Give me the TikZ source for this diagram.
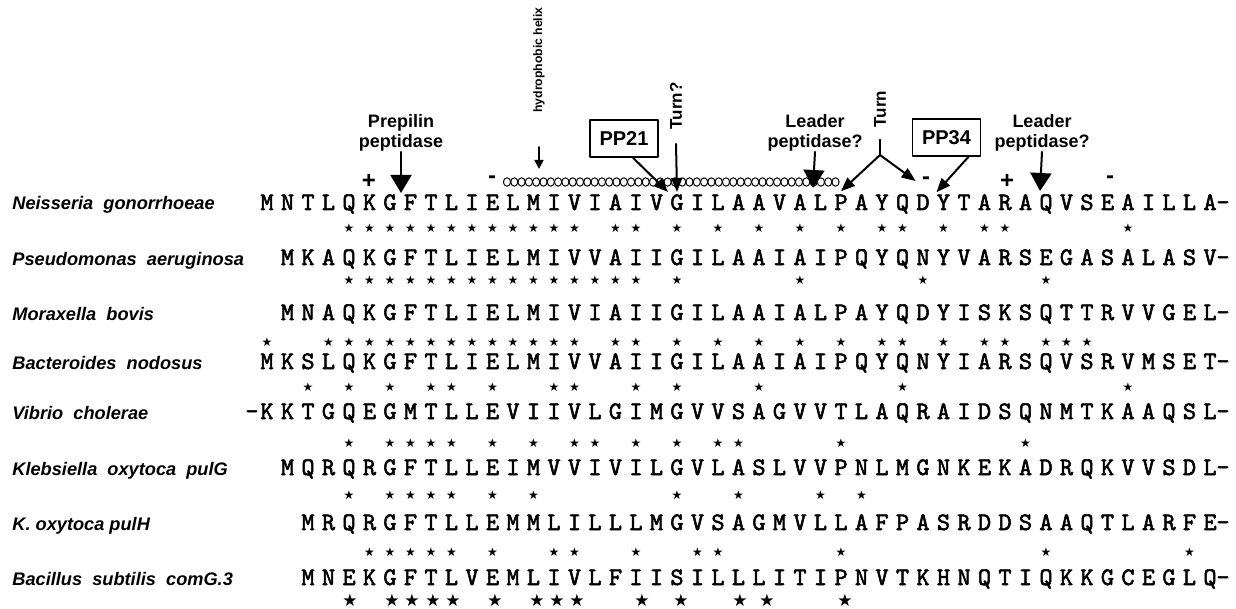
\documentclass[tikz,border=0pt]{standalone}
\usepackage{fontspec}
\setmainfont{Liberation Sans}
\newfontfamily\starfont{DejaVu Sans}
\newfontfamily\seqfont{lmmono10-regular}[Extension=.otf,FakeBold=2.2]
\usetikzlibrary{arrows.meta}

% one aligned sequence: name prefix, baseline y, first column, residues
\newcommand\seqrow[4]{%
  \foreach \resid [count=\i from #3] in {#4}
    \node[res] (#1-\i) at ({\xo+\i*\dx},#2) {\resid};}
% identity marks: name prefix, y, columns
\newcommand\consrow[3]{%
  \foreach \col in {#3}
    \node[cons] (#1-\col) at ({\xo+\col*\dx},#2) {★};}

\begin{document}
\begin{tikzpicture}[x=0.5pt,y=-0.5pt,line cap=round,line join=round,
  res/.style={font=\seqfont\fontsize{12.6}{12.6}\selectfont,inner sep=0pt,anchor=base},
  cons/.style={font=\starfont\fontsize{6}{6}\selectfont,inner sep=0pt},
  bigcons/.style={font=\starfont\fontsize{8.5}{8.5}\selectfont,inner sep=0pt},
  species/.style={font=\bfseries\itshape\fontsize{9.1}{9.1}\selectfont,inner sep=0pt,anchor=base west},
  note/.style={font=\bfseries\fontsize{9}{10}\selectfont,align=center,inner sep=0pt},
  charge/.style={font=\bfseries\fontsize{12}{12}\selectfont,inner sep=0pt},
  ppbox/.style={draw,line width=0.8pt,font=\bfseries\fontsize{10}{10}\selectfont,
    minimum width=34pt,minimum height=18.5pt,inner sep=0pt},
  vert/.style={font=\bfseries\fontsize{8.5}{8.5}\selectfont,rotate=90,inner sep=0pt},
  bigarr/.style={-{Triangle[width=10.5pt,length=9pt]},line width=1pt},
  midarr/.style={-{Triangle[width=5.5pt,length=7pt]},line width=1pt},
  smallarr/.style={-{Triangle[width=4.5pt,length=4.5pt]},line width=0.8pt},
  helixring/.style={line width=0.5pt}]
  \useasboundingbox (0,0) rectangle (1236,609);
  \pgfmathsetmacro{\xo}{267}
  \pgfmathsetmacro{\dx}{20.5}

  % species names
  \node[species] (n-ng) at (12,210) {Neisseria\ \ gonorrhoeae};
  \node[species] (n-pa) at (12,265) {Pseudomonas\ \ aeruginosa};
  \node[species] (n-mb) at (12,320) {Moraxella\ \ bovis};
  \node[species] (n-bn) at (12,369) {Bacteroides\ \ nodosus};
  \node[species] (n-vc) at (12,419) {Vibrio\ \ cholerae};
  \node[species] (n-kg) at (12,475) {Klebsiella\ \ oxytoca\ \ pulG};
  \node[species] (n-kh) at (12,530) {K. oxytoca pulH};
  \node[species] (n-bs) at (12,585) {Bacillus\ \ subtilis\ \ comG.3};

  % sequences
  \seqrow{ng}{210}{0}{M,N,T,L,Q,K,G,F,T,L,I,E,L,M,I,V,I,A,I,V,G,I,L,A,A,V,A,L,P,A,Y,Q,D,Y,T,A,R,A,Q,V,S,E,A,I,L,L,A}
  \seqrow{pa}{265}{1}{M,K,A,Q,K,G,F,T,L,I,E,L,M,I,V,V,A,I,I,G,I,L,A,A,I,A,I,P,Q,Y,Q,N,Y,V,A,R,S,E,G,A,S,A,L,A,S,V}
  \seqrow{mb}{320}{1}{M,N,A,Q,K,G,F,T,L,I,E,L,M,I,V,I,A,I,I,G,I,L,A,A,I,A,L,P,A,Y,Q,D,Y,I,S,K,S,Q,T,T,R,V,V,G,E,L}
  \seqrow{bn}{369}{0}{M,K,S,L,Q,K,G,F,T,L,I,E,L,M,I,V,V,A,I,I,G,I,L,A,A,I,A,I,P,Q,Y,Q,N,Y,I,A,R,S,Q,V,S,R,V,M,S,E,T}
  \seqrow{vc}{419}{0}{K,K,T,G,Q,E,G,M,T,L,L,E,V,I,I,V,L,G,I,M,G,V,V,S,A,G,V,V,T,L,A,Q,R,A,I,D,S,Q,N,M,T,K,A,A,Q,S,L}
  \seqrow{kg}{475}{1}{M,Q,R,Q,R,G,F,T,L,L,E,I,M,V,V,I,V,I,L,G,V,L,A,S,L,V,V,P,N,L,M,G,N,K,E,K,A,D,R,Q,K,V,V,S,D,L}
  \seqrow{kh}{530}{2}{M,R,Q,R,G,F,T,L,L,E,M,M,L,I,L,L,L,M,G,V,S,A,G,M,V,L,L,A,F,P,A,S,R,D,D,S,A,A,Q,T,L,A,R,F,E}
  \seqrow{bs}{585}{2}{M,N,E,K,G,F,T,L,V,E,M,L,I,V,L,F,I,I,S,I,L,L,L,I,T,I,P,N,V,T,K,H,N,Q,T,I,Q,K,K,G,C,E,G,L,Q}
  \node[res] (vc-0) at (252,419) {–};
  \foreach \row/\y in {ng/210,pa/265,mb/320,bn/369,vc/419,kg/475,kh/530,bs/585}
    \node[res] (\row-end) at (1223,\y) {–};

  % identity with N. gonorrhoeae
  \consrow{c1}{228}{4,...,15,17,18,20,...,24,26,28,30,31,33,35,36,42}
  \consrow{c2}{280}{4,...,18,20,...,24,26,...,33,38}
  \consrow{c3}{342}{0,3,4,...,15,17,18,20,...,24,26,28,30,31,33,35,36,38,39,40}
  \consrow{c4}{387}{2,4,6,8,9,11,14,15,18,20,24,31,42}
  \consrow{c5}{443}{4,6,7,8,9,11,13,15,16,18,20,22,23,28,37}
  \consrow{c6}{495}{4,6,7,8,9,11,13,20,23,27,29}
  \consrow{c7}{552}{5,...,9,11,14,15,18,21,22,28,38,45}
  \foreach \sx in {350,392,412,433,453,495,537,557,577,642,681,740,767,845}
    \node[bigcons] (c8-\sx) at (\sx,600) {★};

  % hydrophobic helix
  \foreach \k in {0,...,45}
    \draw[helixring] ({507+7.3*\k},182) ellipse [x radius=1.8pt,y radius=2.1pt];

  % charges
  \node[charge] (q1) at (369,181) {+};
  \node[charge] (q2) at (492,180) {-};
  \node[charge] (q3) at (926,181) {-};
  \node[charge] (q4) at (1007,181) {+};
  \node[charge] (q5) at (1110,180) {-};

  % labels
  \node[note] (prep) at (401,133) {Prepilin\\peptidase};
  \node[note] (lead1) at (815,133) {Leader\\peptidase?};
  \node[note] (lead2) at (1042,133) {Leader\\peptidase?};
  \node[ppbox] (pp21) at (624,138.5) {PP21};
  \node[ppbox] (pp34) at (946.5,137.5) {PP34};
  \node[vert,font=\bfseries\fontsize{6.1}{6.1}\selectfont] (helix) at (539,60) {hydrophobic\ helix};
  \node[vert] (turnq) at (676,106) {Turn?};
  \node[vert] (turn) at (880,109) {Turn};

  % arrows
  \coordinate (cut1) at (401,193);
  \coordinate (cut2) at (813,188);
  \coordinate (cut3) at (1040,191);
  \coordinate (hx) at (539,169);
  \coordinate (fork) at (880,155);
  \draw[bigarr] (prep.south) -- (cut1);
  \draw[bigarr] (lead1.south) -- (cut2);
  \draw[bigarr] (lead2.south) -- (cut3);
  \draw[smallarr] (539,147) -- (hx);
  \draw[midarr] (turnq.west) ++(0,14) -- ([yshift=1pt]ng-20.north);
  \draw[midarr] ([xshift=4.5pt]pp21.south) -- ([xshift=-1pt,yshift=1pt]ng-20.north west);
  \draw[midarr] ([xshift=11pt]pp34.south) -- ([yshift=1pt]ng-33.north west);
  \draw[line width=1pt] (turn.west) ++(0,12) -- (fork);
  \draw[midarr] (fork) -- ([yshift=1.5pt]ng-28.north);
  \draw[midarr] (fork) -- ([xshift=-3pt]q3.west);
\end{tikzpicture}
\end{document}
